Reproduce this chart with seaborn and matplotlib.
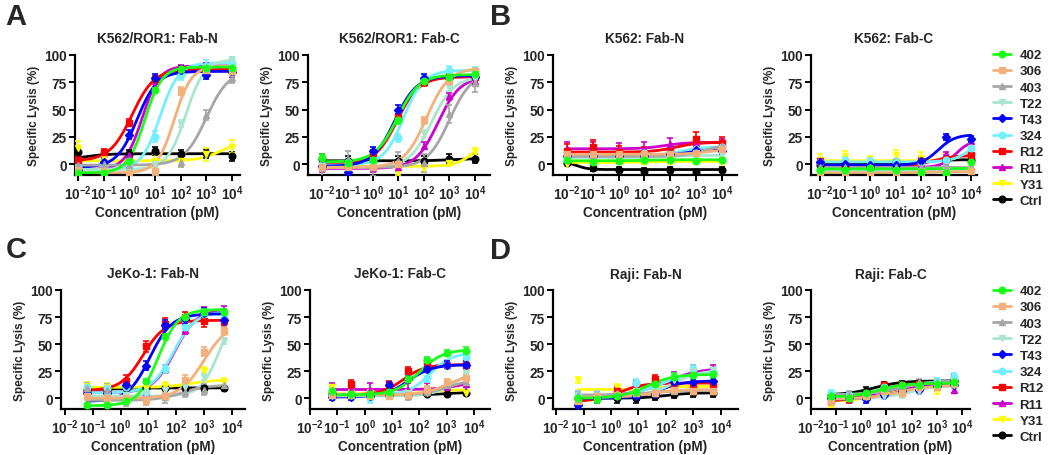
import numpy as np
import pandas as pd
import matplotlib
matplotlib.use("Agg")
import matplotlib.pyplot as plt
from matplotlib.lines import Line2D
from matplotlib.ticker import NullLocator
import seaborn as sns

clones = ["402", "306", "403", "T22", "T43", "324", "R12", "R11", "Y31", "Ctrl"]
colors = ["#1aff1a", "#f4b07a", "#a6a6a6", "#a9e5cf", "#0000ff",
          "#73f0ff", "#ff0000", "#cc00cc", "#ffff00", "#000000"]
markers = ["o", "s", "^", "v", "D", "o", "s", "^", "v", "o"]

conc_k562 = [1e-2, 1e-1, 1e0, 1e1, 1e2, 1e3, 1e4]
conc_lymph = [0.064, 0.32, 1.6, 8, 40, 200, 1000, 5000]

# rows follow clones order; fit = (bottom, top, logEC50, hill)
ror1_n_pts = [[-8, -8, 3, 68, 87, 88, 88], [-5, -6, -8, -6, 67, 86, 85], [-1, 0, -1, -7, 2, 45, 79],
              [-6, -4, -3, 0, 37, 88, 95], [-5, 2, 27, 79, 86, 82, 84], [-3, -2, -4, 25, 82, 90, 93],
              [4, 11, 38, 78, 87, 88, 86], [-5, -5, 8, 70, 88, 90, 88], [15, 6, 0, 3, 3, 9, 16],
              [11, 9, 9, 12, 9, 10, 7]]
ror1_n_sem = [2, 4, 5, 3, 4, 5, 3, 3, 6, 4]
ror1_n_fit = [(-8, 89, 0.6, 1.3), (-8, 90, 1.75, 1.3), (-1, 86, 3.0, 1.0), (-5, 96, 2.2, 1.2),
              (-3, 85, 0.3, 1.1), (-5, 93, 1.2, 1.2), (3, 87, 0.1, 1.0), (-5, 90, 0.5, 1.3),
              (3, 22, 3.6, 1.0), (4, 9.5, -1.7, 1.0)]

ror1_c_pts = [[6, 1, 4, 40, 76, 80, 83], [-3, -3, -3, 0, 40, 76, 85], [-4, 4, -3, 3, 1, 46, 74],
              [-2, -2, -2, 0, 28, 70, 78], [-2, -7, 12, 50, 79, 79, 80], [-1, 2, 2, 24, 78, 86, 85],
              [-3, -1, 10, 43, 75, 80, 80], [-4, -4, -4, -3, 17, 62, 76], [-4, -4, -3, -7, -4, 1, 12],
              [5, 3, 3, 3, 3, 5, 5]]
ror1_c_sem = [3, 3, 8, 3, 4, 4, 3, 3, 3, 4]
ror1_c_fit = [(2, 82, 0.95, 1.0), (-3, 88, 2.1, 1.0), (-3, 84, 3.0, 1.0), (-3, 80, 2.3, 1.0),
              (-2, 81, 0.85, 1.0), (-1, 86, 1.2, 1.1), (0, 80, 0.95, 1.0), (-4, 80, 2.55, 1.0),
              (-2, 25, 4.0, 1.2), (3, 5, 3.0, 1.0)]

k562_n_pts = [[4, 2, 3, 4, 4, 3, 4], [9, 9, 9, 9, 9, 10, 14], [7, 7, 7, 8, 8, 11, 17],
              [6, 6, 6, 7, 7, 8, 8], [7, 7, 7, 7, 9, 13, 12], [8, 8, 8, 10, 9, 14, 16],
              [12, 16, 11, 10, 11, 23, 19], [14, 14, 13, 14, 18, 19, 17], [0, 2, 2, 2, 2, 2, 2],
              [1, -4, -5, -6, -5, -7, -5]]
k562_n_sem = [2, 3, 4, 2, 3, 3, 6, 6, 2, 2]
k562_n_fit = [(3, 4, 1.0, 1.0), (9, 14, 3.5, 1.0), (7, 18, 3.3, 1.0), (6, 8, 2.0, 1.0),
              (7, 13, 2.5, 1.0), (8, 16, 2.5, 1.0), (11, 20, 2.2, 1.0), (14, 20, 1.8, 1.0),
              (1.5, 2.5, 1.0, 1.0), (2, -5, -1.6, 2.0)]

k562_c_pts = [[-5, -5, -4, -5, -7, -8, 2], [-7, -8, -9, -8, -7, -8, -6], [-3, -3, -3, -3, -3, -3, -5],
              [-7, -7, -6, -6, -6, -6, -6], [2, 0, -1, -1, 3, 25, 23], [2, 4, 3, 2, 2, 4, 15],
              [3, -1, -3, -2, 3, 5, 8], [-2, -1, -1, -1, -1, 9, 21], [4, 7, 2, 8, 6, 4, 12],
              [-1, -1, -2, 2, 2, 4, 4]]
k562_c_sem = [2, 2, 2, 2, 3, 3, 3, 2, 5, 2]
k562_c_fit = [(-4.5, -4, 2.0, 1.0), (-8, -7, 2.0, 1.0), (-3, -3, 2.0, 1.0), (-6, -6, 2.0, 1.0),
              (-1, 27, 2.7, 1.3), (2, 25, 4.0, 1.2), (-2, 8, 2.5, 1.0), (-3, 22, 3.4, 1.5),
              (3, 20, 4.0, 1.2), (0, 4, 2.0, 1.0)]

jeko_n_pts = [[-6, -6, -3, 16, 57, 75, 80, 80], [2, 0, 0, -2, 2, 17, 43, 62], [9, 8, -2, -1, 1, 6, 8, 12],
              [2, 2, 3, 5, 8, 10, 20, 53], [5, 5, 12, 30, 68, 73, 79, 72], [10, 9, 10, 6, 27, 66, 78, 75],
              [7, 8, 16, 48, 69, 75, 71, 71], [10, 8, 12, 6, 27, 63, 80, 81], [11, 10, 10, 9, 11, 12, 25, 15],
              [8, 8, 9, 9, 9, 9, 9, 9]]
jeko_n_sem = [2, 4, 5, 3, 4, 4, 5, 4, 4, 2]
jeko_n_fit = [(-7, 82, 1.35, 1.2), (0, 70, 3.0, 1.0), (-2, 12, 2.2, 1.0), (2, 85, 3.55, 1.3),
              (-3, 78, 1.05, 1.1), (5, 80, 1.9, 1.1), (7, 72, 0.8, 1.1), (5, 82, 1.95, 1.1),
              (10, 17, 2.5, 1.0), (8, 9.5, 0.0, 1.0)]

jeko_c_pts = [[7, 4, 4, 6, 18, 35, 42, 44], [3, 3, 2, 2, 3, 8, 15, 19], [4, 4, 3, 3, 2, 6, 12, 15],
              [2, 2, 2, 3, 5, 8, 14, 23], [1, 1, 2, 12, 18, 27, 31, 31], [2, 2, 0, 6, 3, 19, 31, 38],
              [4, 13, 3, 12, 25, 33, 31, 31], [8, 8, 8, 8, 8, 8, 10, 13], [10, 5, 5, 3, 3, 5, 10, 5],
              [4, 3, 3, 3, 3, 4, 4, 5]]
jeko_c_sem = [3, 3, 4, 3, 3, 4, 4, 6, 3, 1]
jeko_c_fit = [(3, 45, 2.0, 1.0), (3, 22, 3.0, 1.0), (3, 17, 3.0, 1.0), (2, 30, 3.4, 1.0),
              (1, 31, 1.6, 1.0), (3, 42, 2.4, 1.1), (3, 31, 1.4, 1.1), (8, 16, 3.5, 1.0),
              (4, 8, 2.5, 1.0), (3, 5.5, 3.0, 1.0)]

raji_n_pts = [[0, -1, 2, 6, 13, 20, 21, 22], [-3, 2, 3, 5, 5, 8, 7, 7], [3, 3, 5, 5, 5, 7, 7, 7],
              [2, 2, 2, 7, 8, 17, 25, 26], [-6, 0, 2, 2, 4, 15, 15, 16], [3, 3, 3, 14, 10, 17, 27, 24],
              [-3, 2, 7, 13, 18, 12, 12, 13], [3, 2, 3, 7, 12, 20, 27, 27], [17, 2, 10, 8, 10, 10, 12, 10],
              [0, 0, 0, 0, 2, 4, 5, 5]]
raji_n_sem = [3, 3, 3, 3, 3, 4, 3, 4, 3, 4]
raji_n_fit = [(0, 22, 1.3, 0.9), (1, 8, 1.5, 1.0), (3, 7, 1.5, 1.0), (2, 26, 2.3, 0.9),
              (0, 16, 1.8, 1.0), (2, 24, 1.8, 0.8), (-3, 14, 0.3, 1.0), (2, 28, 2.0, 0.7),
              (8, 11, 1.5, 1.0), (0, 5, 2.0, 1.0)]

raji_c_pts = [[2, 0, 5, 9, 12, 12, 13, 15], [-3, 0, 2, 7, 5, 10, 10, 13], [3, 4, 5, 8, 11, 15, 15, 16],
              [0, 0, 1, 2, 3, 7, 10, 12], [0, 0, -1, 3, 7, 8, 11, 12], [5, 3, 3, 10, 11, 12, 16, 20],
              [-3, -1, 2, 12, 12, 13, 13, 18], [1, 2, 5, 5, 10, 12, 12, 8], [-5, 0, 1, 5, 9, 12, 7, 13],
              [3, 3, 7, 12, 13, 14, 15, 16]]
raji_c_sem = [3, 3, 3, 3, 3, 3, 3, 3, 3, 3]
raji_c_fit = [(1, 14, 0.7, 0.8), (-1, 12, 1.5, 0.7), (3, 16, 1.5, 0.7), (0, 12, 2.0, 0.8),
              (-1, 12, 1.5, 0.7), (3, 16, 1.5, 0.7), (-3, 14, 0.5, 0.8), (1, 12, 1.0, 0.8),
              (-3, 12, 1.0, 0.7), (3, 16, 0.5, 0.8)]

sns.set_theme(style="ticks")
plt.rcParams["font.family"] = ["Liberation Sans", "DejaVu Sans"]
plt.rcParams["font.weight"] = "bold"
plt.rcParams["mathtext.fontset"] = "custom"
plt.rcParams["mathtext.rm"] = "Liberation Sans:bold"
plt.rcParams["mathtext.it"] = "Liberation Sans:bold"
plt.rcParams["mathtext.bf"] = "Liberation Sans:bold"
plt.rcParams["mathtext.default"] = "rm"

W, H = 1050, 456
fig = plt.figure(figsize=(W / 100, H / 100), dpi=100)

palette = dict(zip(clones, colors))


def fit_curve(conc, p):
    lx = np.linspace(np.log10(conc[0]), np.log10(conc[-1]), 200)
    b, t, ec, h = p
    return 10 ** lx, b + (t - b) / (1 + 10 ** ((ec - lx) * h))


# (title, conc, pts, sem, fit, left px, right px, top px, bottom px, log xlim)
panels = [
    ("K562/ROR1: Fab-N", conc_k562, ror1_n_pts, ror1_n_sem, ror1_n_fit, 75, 240, 56, 176, (-2.12, 4.31)),
    ("K562/ROR1: Fab-C", conc_k562, ror1_c_pts, ror1_c_sem, ror1_c_fit, 308, 490, 56, 176, (-2.55, 4.59)),
    ("K562: Fab-N", conc_k562, k562_n_pts, k562_n_sem, k562_n_fit, 553, 737, 56, 176, (-2.54, 4.58)),
    ("K562: Fab-C", conc_k562, k562_c_pts, k562_c_sem, k562_c_fit, 811, 977, 56, 176, (-2.36, 4.24)),
    ("JeKo-1: Fab-N", conc_lymph, jeko_n_pts, jeko_n_sem, jeko_n_fit, 61, 245, 291, 410, (-2.14, 4.47)),
    ("JeKo-1: Fab-C", conc_lymph, jeko_c_pts, jeko_c_sem, jeko_c_fit, 310, 490, 291, 410, (-2.0, 4.59)),
    ("Raji: Fab-N", conc_lymph, raji_n_pts, raji_n_sem, raji_n_fit, 553, 738, 291, 410, (-2.11, 4.62)),
    ("Raji: Fab-C", conc_lymph, raji_c_pts, raji_c_sem, raji_c_fit, 811, 970, 291, 410, (-2.0, 4.32)),
]

for title, conc, pts, sem, fit, l, r, t, b, xl in panels:
    ax = fig.add_axes([l / W, 1 - b / H, (r - l) / W, (b - t) / H])
    rows = []
    for name, p in zip(clones, fit):
        xs, ys = fit_curve(conc, p)
        rows.append(pd.DataFrame({"conc": xs, "lysis": ys, "clone": name}))
    df = pd.concat(rows)
    ax.set_xscale("log")
    sns.lineplot(data=df, x="conc", y="lysis", hue="clone", hue_order=clones[::-1],
                 palette=palette, linewidth=2.0, legend=False, ax=ax, sort=False)
    for i in range(len(clones))[::-1]:
        ax.errorbar(conc, pts[i], yerr=sem[i], fmt=markers[i], color=colors[i],
                    ms=3.8 if markers[i] == "D" else 4.8, capsize=2.2, elinewidth=1.2,
                    capthick=1.2, zorder=3)
    ax.set_xlim(10 ** xl[0], 10 ** xl[1])
    ax.set_ylim(-10, 100)
    ax.set_xticks(10.0 ** np.arange(-2, 5))
    ax.set_xticklabels([rf"$10^{{{k}}}$" for k in range(-2, 5)])
    ax.xaxis.set_minor_locator(NullLocator())
    ax.set_yticks([0, 25, 50, 75, 100])
    ax.tick_params(labelsize=9.8, width=1.4, length=4, pad=2, color="black")
    for s in ["left", "bottom"]:
        ax.spines[s].set_linewidth(1.6)
        ax.spines[s].set_color("black")
    sns.despine(ax=ax)
    ax.set_xlabel("Concentration (pM)", fontsize=9.8, fontweight="bold", labelpad=2)
    ax.set_ylabel("Specific Lysis (%)", fontsize=8.5, fontweight="bold", labelpad=3)
    ax.set_title(title, fontsize=9.8, fontweight="bold", pad=9)

handles = [Line2D([], [], color=c, marker=m, lw=2.0, ms=3.8 if m == "D" else 4.8)
           for c, m in zip(colors, markers)]
for y0 in [50, 286]:
    fig.legend(handles, clones, loc="upper left", bbox_to_anchor=(993 / W, 1 - y0 / H),
               frameon=False, fontsize=9.5, handlelength=1.4, handletextpad=0.6,
               labelspacing=0.3, borderpad=0, borderaxespad=0)

for letter, x, y in [("A", 16, 17), ("B", 501, 17), ("C", 16, 250), ("D", 501, 251)]:
    fig.text(x / W, 1 - y / H, letter, fontsize=21, fontweight="bold", ha="center", va="center")

fig.savefig("out.png", dpi=100)
